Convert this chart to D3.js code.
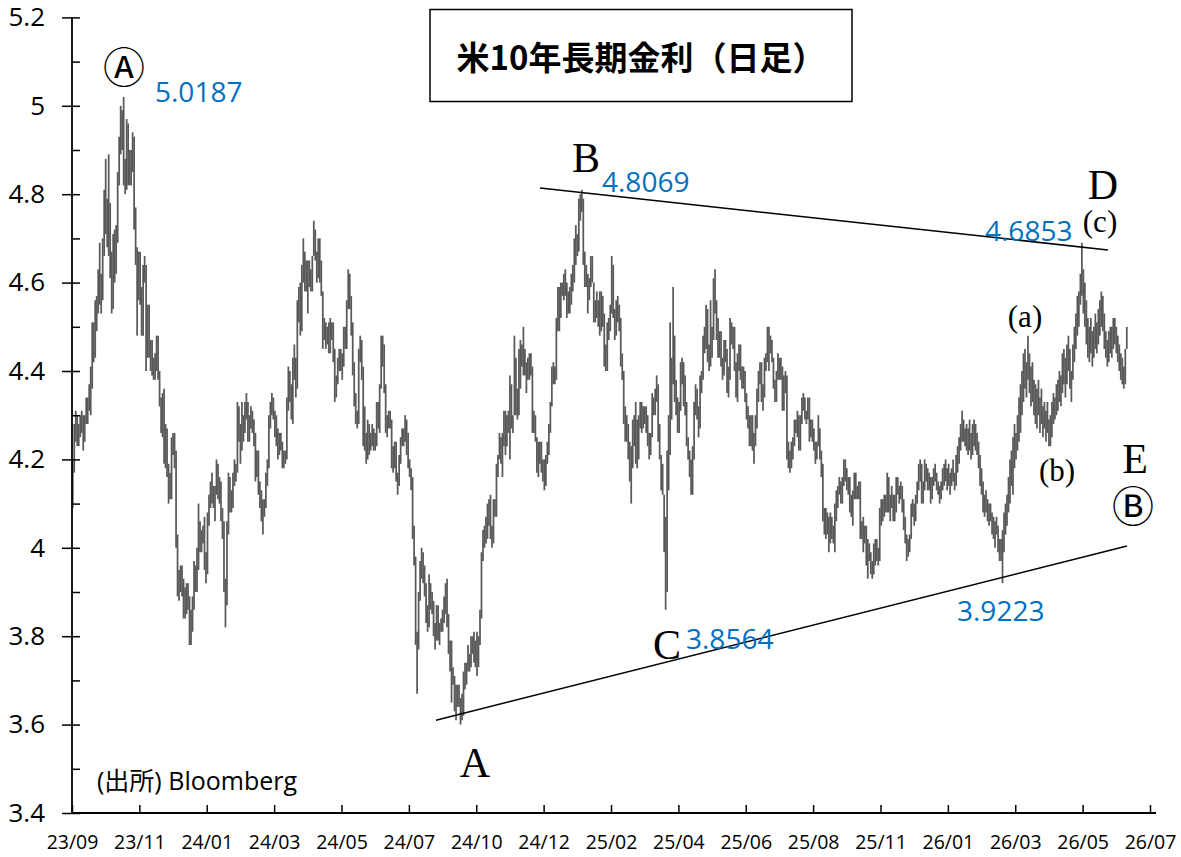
<!DOCTYPE html>
<html><head><meta charset="utf-8">
<script src="https://cdn.jsdelivr.net/npm/d3@7"></script>
<style>body{margin:0;background:#fff}svg{display:block}</style>
</head><body><svg id="c" width="1181" height="857"></svg>
<script>
// Daily [low, high] of the US 10Y yield (one pair per trading day)
const hl2023 = [
// Sep
[4.09,4.20],[4.17,4.28],[4.24,4.31],[4.23,4.30],[4.23,4.28],[4.25,4.30],[4.26,4.31],[4.22,4.30],[4.24,4.30],[4.28,4.34],[4.28,4.34],[4.31,4.37],[4.30,4.41],[4.36,4.51],[4.42,4.51],[4.43,4.56],[4.49,4.57],[4.53,4.63],[4.55,4.69],[4.53,4.62],
// Oct
[4.56,4.70],[4.66,4.81],[4.71,4.88],[4.68,4.79],[4.66,4.89],[4.61,4.78],[4.53,4.67],[4.54,4.71],[4.60,4.72],[4.62,4.73],[4.69,4.85],[4.82,4.93],[4.89,5.00],[4.90,4.99],[4.82,5.02],[4.80,4.88],[4.81,4.97],[4.82,4.96],[4.82,4.90],[4.82,4.90],[4.85,4.94],
// Nov
[4.72,4.93],[4.64,4.77],[4.48,4.68],[4.56,4.67],[4.55,4.67],[4.48,4.59],[4.48,4.64],[4.60,4.66],[4.40,4.64],[4.43,4.55],[4.43,4.55],[4.40,4.47],[4.39,4.47],[4.38,4.43],[4.38,4.44],[4.40,4.48],[4.38,4.48],[4.32,4.40],[4.26,4.34],[4.25,4.35],
// Dec
[4.19,4.36],[4.18,4.28],[4.16,4.27],[4.10,4.19],[4.11,4.17],[4.11,4.25],[4.21,4.26],[4.18,4.26],[4.00,4.22],[3.89,4.03],[3.88,3.95],[3.90,3.96],[3.89,3.96],[3.84,3.93],[3.84,3.91],[3.85,3.92],[3.86,3.92],[3.78,3.89],[3.78,3.86],[3.81,3.89]
];
const hl2024 = [
// Jan
[3.86,3.97],[3.90,3.96],[3.90,4.00],[3.95,4.10],[3.99,4.06],[3.99,4.04],[4.01,4.05],[3.95,4.07],[3.92,3.99],[3.94,4.08],[4.05,4.12],[4.09,4.15],[4.10,4.17],[4.09,4.14],[4.06,4.14],[4.12,4.20],[4.11,4.19],[4.10,4.16],[4.06,4.15],[4.02,4.09],[3.90,4.06],
// Feb
[3.82,3.93],[3.87,4.06],[4.03,4.17],[4.08,4.16],[4.08,4.13],[4.09,4.17],[4.14,4.20],[4.15,4.19],[4.17,4.33],[4.24,4.32],[4.19,4.28],[4.22,4.33],[4.24,4.30],[4.26,4.33],[4.29,4.35],[4.24,4.33],[4.24,4.30],[4.27,4.32],[4.26,4.31],[4.23,4.29],
// Mar
[4.15,4.26],[4.16,4.22],[4.12,4.22],[4.09,4.15],[4.06,4.13],[4.03,4.11],[4.07,4.11],[4.09,4.17],[4.14,4.20],[4.18,4.30],[4.27,4.33],[4.30,4.35],[4.29,4.34],[4.25,4.31],[4.23,4.30],[4.20,4.27],[4.21,4.26],[4.22,4.26],[4.18,4.24],[4.18,4.22],[4.19,4.22],
// Apr
[4.20,4.34],[4.31,4.41],[4.33,4.40],[4.29,4.37],[4.28,4.43],[4.38,4.46],[4.34,4.43],[4.36,4.56],[4.51,4.59],[4.48,4.60],[4.49,4.64],[4.60,4.70],[4.58,4.67],[4.58,4.65],[4.53,4.65],[4.59,4.65],[4.58,4.63],[4.58,4.66],[4.66,4.74],[4.65,4.72],[4.60,4.67],[4.61,4.70],
// May
[4.60,4.70],[4.57,4.65],[4.45,4.58],[4.47,4.52],[4.45,4.51],[4.46,4.50],[4.44,4.51],[4.44,4.52],[4.47,4.51],[4.42,4.51],[4.33,4.45],[4.34,4.39],[4.37,4.43],[4.40,4.45],[4.40,4.45],[4.38,4.44],[4.41,4.50],[4.45,4.50],[4.45,4.56],[4.54,4.63],[4.54,4.62],[4.48,4.57],
// Jun
[4.39,4.51],[4.32,4.42],[4.28,4.35],[4.27,4.31],[4.28,4.45],[4.42,4.48],[4.38,4.47],[4.23,4.41],[4.22,4.32],[4.19,4.26],[4.20,4.29],[4.21,4.28],[4.22,4.26],[4.23,4.28],[4.22,4.27],[4.22,4.26],[4.23,4.33],[4.27,4.33],[4.26,4.37],
// Jul
[4.36,4.48],[4.41,4.48],[4.35,4.46],[4.26,4.37],[4.25,4.30],[4.27,4.31],[4.27,4.31],[4.18,4.29],[4.17,4.23],[4.18,4.24],[4.15,4.24],[4.12,4.17],[4.14,4.21],[4.19,4.25],[4.23,4.27],[4.23,4.27],[4.24,4.30],[4.21,4.29],[4.18,4.26],[4.16,4.20],[4.13,4.18],[4.02,4.16],
// Aug
[3.96,4.05],[3.78,3.98],[3.67,3.81],[3.77,3.90],[3.88,3.97],[3.93,4.00],[3.92,3.99],[3.89,3.96],[3.83,3.92],[3.81,3.87],[3.82,3.94],[3.86,3.92],[3.85,3.90],[3.80,3.88],[3.77,3.83],[3.79,3.87],[3.79,3.87],[3.78,3.83],[3.81,3.84],[3.81,3.86],[3.83,3.89],[3.85,3.92],
// Sep
[3.82,3.93],[3.76,3.85],[3.72,3.79],[3.65,3.79],[3.69,3.73],[3.63,3.71],[3.61,3.69],[3.64,3.69],[3.64,3.69],[3.60,3.66],[3.61,3.67],[3.62,3.72],[3.68,3.74],[3.69,3.74],[3.72,3.78],[3.72,3.76],[3.73,3.80],[3.76,3.80],[3.74,3.81],[3.73,3.79],
// Oct
[3.71,3.81],[3.73,3.80],[3.78,3.86],[3.84,3.99],[3.97,4.04],[4.00,4.05],[4.01,4.07],[4.02,4.10],[4.05,4.11],[4.02,4.12],[4.00,4.05],[4.01,4.11],[4.07,4.11],[4.07,4.19],[4.16,4.21],[4.20,4.26],[4.19,4.25],[4.16,4.26],[4.23,4.31],[4.21,4.31],[4.23,4.30],[4.26,4.31],
// Nov
[4.20,4.39],[4.27,4.37],[4.26,4.30],[4.30,4.48],[4.30,4.43],[4.29,4.36],[4.30,4.45],[4.36,4.47],[4.41,4.46],[4.39,4.50],[4.39,4.45],[4.35,4.42],[4.38,4.43],[4.38,4.44],[4.39,4.44],[4.26,4.41],[4.26,4.31],[4.24,4.30],[4.17,4.25],
// Dec
[4.16,4.24],[4.19,4.24],[4.17,4.24],[4.15,4.20],[4.13,4.20],[4.14,4.21],[4.19,4.24],[4.21,4.28],[4.26,4.33],[4.32,4.41],[4.37,4.42],[4.37,4.41],[4.38,4.52],[4.49,4.59],[4.49,4.59],[4.52,4.60],[4.57,4.60],[4.56,4.62],[4.57,4.63],[4.52,4.60],[4.53,4.58]
];
const hl2025 = [
// Jan
[4.53,4.59],[4.55,4.62],[4.58,4.64],[4.60,4.70],[4.64,4.73],[4.66,4.71],[4.67,4.79],[4.74,4.80],[4.76,4.81],[4.64,4.79],[4.59,4.67],[4.59,4.64],[4.53,4.62],[4.56,4.61],[4.59,4.66],[4.60,4.66],[4.51,4.60],[4.51,4.56],[4.52,4.58],[4.50,4.56],[4.48,4.58],
// Feb
[4.49,4.58],[4.50,4.57],[4.41,4.53],[4.40,4.46],[4.40,4.51],[4.47,4.52],[4.49,4.55],[4.53,4.66],[4.52,4.64],[4.47,4.54],[4.48,4.56],[4.51,4.57],[4.49,4.55],[4.41,4.52],[4.38,4.44],[4.28,4.40],[4.24,4.32],[4.24,4.30],[4.20,4.28],
// Mar
[4.15,4.24],[4.10,4.23],[4.18,4.29],[4.23,4.30],[4.19,4.33],[4.18,4.29],[4.20,4.30],[4.27,4.33],[4.26,4.33],[4.27,4.32],[4.28,4.32],[4.26,4.32],[4.23,4.30],[4.20,4.26],[4.21,4.26],[4.25,4.35],[4.30,4.34],[4.30,4.36],[4.33,4.39],[4.24,4.37],[4.20,4.28],
// Apr
[4.13,4.21],[4.12,4.19],[3.99,4.12],[3.86,4.07],[3.90,4.22],[4.13,4.30],[4.21,4.51],[4.29,4.43],[4.37,4.59],[4.33,4.48],[4.30,4.38],[4.26,4.34],[4.26,4.33],[4.31,4.42],[4.37,4.43],[4.32,4.42],[4.30,4.39],[4.23,4.33],[4.20,4.25],[4.16,4.22],[4.12,4.20],
// May
[4.12,4.23],[4.20,4.33],[4.30,4.37],[4.29,4.36],[4.25,4.32],[4.27,4.39],[4.35,4.40],[4.38,4.48],[4.44,4.50],[4.45,4.55],[4.42,4.54],[4.40,4.46],[4.41,4.56],[4.43,4.50],[4.47,4.61],[4.53,4.63],[4.47,4.56],[4.43,4.52],[4.43,4.49],[4.41,4.49],[4.38,4.43],
// Jun
[4.39,4.47],[4.42,4.47],[4.35,4.45],[4.34,4.41],[4.38,4.52],[4.46,4.51],[4.45,4.50],[4.40,4.50],[4.34,4.42],[4.33,4.44],[4.40,4.46],[4.38,4.46],[4.36,4.41],[4.36,4.41],[4.33,4.40],[4.29,4.35],[4.27,4.32],[4.23,4.30],[4.23,4.30],[4.22,4.30],
// Jul
[4.19,4.26],[4.23,4.30],[4.27,4.36],[4.33,4.40],[4.37,4.42],[4.33,4.42],[4.31,4.37],[4.34,4.43],[4.40,4.44],[4.42,4.50],[4.40,4.50],[4.44,4.48],[4.42,4.47],[4.36,4.43],[4.33,4.38],[4.33,4.40],[4.38,4.44],[4.38,4.43],[4.38,4.43],[4.31,4.41],[4.31,4.39],[4.35,4.40],
// Aug
[4.20,4.39],[4.18,4.24],[4.17,4.22],[4.18,4.24],[4.20,4.25],[4.23,4.29],[4.26,4.29],[4.25,4.31],[4.22,4.30],[4.22,4.30],[4.28,4.34],[4.31,4.35],[4.29,4.34],[4.28,4.31],[4.29,4.34],[4.24,4.34],[4.25,4.29],[4.24,4.29],[4.22,4.27],[4.19,4.24],[4.20,4.24],
// Sep
[4.23,4.30],[4.20,4.27],[4.16,4.22],[4.06,4.19],[4.03,4.09],[4.02,4.09],[4.03,4.08],[3.99,4.07],[4.01,4.08],[4.02,4.07],[4.01,4.05],[3.99,4.10],[4.06,4.13],[4.09,4.14],[4.12,4.16],[4.10,4.15],[4.10,4.16],[4.14,4.20],[4.15,4.20],[4.13,4.18],[4.12,4.16],
// Oct
[4.08,4.16],[4.07,4.12],[4.05,4.13],[4.11,4.17],[4.11,4.17],[4.11,4.14],[4.11,4.15],[4.02,4.15],[4.02,4.06],[3.99,4.07],[4.01,4.05],[3.96,4.05],[3.93,4.02],[3.97,4.01],[3.94,3.99],[3.93,3.97],[3.94,4.01],[3.96,4.02],[3.97,4.02],[3.96,4.00],[3.97,4.09],[4.05,4.11],[4.06,4.11],
// Nov
[4.07,4.12],[4.08,4.12],[4.08,4.17],[4.08,4.16],[4.06,4.12],[4.09,4.14],[4.06,4.12],[4.06,4.12],[4.08,4.16],[4.12,4.16],[4.10,4.14],[4.11,4.15],[4.08,4.14],[4.04,4.11],[4.01,4.07],[3.97,4.03],[3.98,4.02],[3.99,4.03],
// Dec
[4.02,4.10],[4.07,4.11],[4.05,4.10],[4.06,4.12],[4.10,4.15],[4.13,4.19],[4.15,4.20],[4.10,4.19],[4.10,4.15],[4.13,4.20],[4.15,4.19],[4.13,4.18],[4.13,4.17],[4.10,4.16],[4.11,4.16],[4.14,4.18],[4.15,4.19],[4.13,4.17],[4.12,4.15],[4.10,4.14],[4.11,4.15],[4.13,4.18]
];
const hl2026 = [
// Jan
[4.14,4.19],[4.15,4.20],[4.13,4.18],[4.14,4.19],[4.12,4.17],[4.14,4.18],[4.15,4.20],[4.13,4.17],[4.14,4.21],[4.17,4.23],[4.19,4.25],[4.22,4.28],[4.24,4.31],[4.24,4.29],[4.23,4.27],[4.22,4.28],[4.21,4.27],[4.22,4.29],[4.20,4.26],[4.21,4.28],
// Feb
[4.23,4.29],[4.22,4.28],[4.21,4.26],[4.18,4.24],[4.14,4.21],[4.12,4.18],[4.08,4.15],[4.07,4.12],[4.08,4.13],[4.06,4.11],[4.05,4.10],[4.06,4.10],[4.03,4.08],[4.02,4.07],[4.00,4.06],[4.03,4.07],[3.99,4.05],[3.97,4.02],[3.97,4.02],
// Mar
[3.92,4.04],[3.99,4.08],[4.03,4.10],[4.05,4.12],[4.08,4.16],[4.10,4.20],[4.14,4.22],[4.12,4.25],[4.18,4.28],[4.20,4.26],[4.22,4.30],[4.24,4.34],[4.26,4.37],[4.30,4.40],[4.33,4.44],[4.36,4.45],[4.34,4.42],[4.38,4.48],[4.35,4.44],[4.32,4.41],[4.33,4.42],[4.30,4.38],
// Apr
[4.28,4.37],[4.27,4.36],[4.30,4.38],[4.26,4.34],[4.28,4.36],[4.25,4.32],[4.27,4.33],[4.24,4.31],[4.26,4.33],[4.23,4.29],[4.23,4.30],[4.25,4.33],[4.28,4.35],[4.29,4.34],[4.30,4.37],[4.31,4.38],[4.33,4.40],[4.32,4.39],[4.35,4.44],[4.37,4.45],[4.34,4.43],
// May
[4.37,4.46],[4.40,4.48],[4.36,4.45],[4.33,4.40],[4.38,4.46],[4.42,4.50],[4.45,4.53],[4.48,4.57],[4.50,4.58],[4.55,4.62],[4.57,4.69],[4.53,4.63],[4.50,4.60],[4.46,4.56],[4.43,4.52],[4.42,4.50],[4.44,4.52],[4.41,4.49],[4.43,4.50],[4.45,4.53],
// Jun
[4.44,4.51],[4.46,4.54],[4.48,4.56],[4.50,4.58],[4.49,4.57],[4.45,4.53],[4.43,4.49],[4.41,4.47],[4.42,4.49],[4.44,4.50],[4.43,4.50],[4.45,4.52],[4.46,4.52],[4.44,4.50],[4.42,4.48],[4.40,4.46],[4.38,4.44],[4.37,4.43],[4.36,4.41],[4.37,4.45],[4.45,4.50]
];
const xTickLabels = ["23/09","23/11","24/01","24/03","24/05","24/07","24/10","24/12","25/02","25/04","25/06","25/08","25/11","26/01","26/03","26/05","26/07"];
const daysPerTick = 45;
const yMajor = [3.4,3.6,3.8,4.0,4.2,4.4,4.6,4.8,5.0,5.2];
const yTickLabels = ["3.4","3.6","3.8","4","4.2","4.4","4.6","4.8","5","5.2"];
const yMinor = [3.5,3.7,3.9,4.1,4.3,4.5,4.7,4.9,5.1];
// trend lines: [day index, yield]
const upperLine = [[312.6,4.814],[691.9,4.674]];
const lowerLine = [[243.1,3.610],[704.6,4.004]];
// annotations
const waveLabels = [
  {t:"B",x:586,y:172},{t:"C",x:667,y:659},{t:"D",x:1103,y:199},{t:"E",x:1135,y:473},{t:"A",x:475,y:777}
];
const subLabels = [{t:"(a)",x:1025,y:327},{t:"(b)",x:1057,y:481},{t:"(c)",x:1100,y:232}];
const valueLabels = [
  {t:"5.0187",x:155,y:102},{t:"4.8069",x:602,y:192},{t:"4.6853",x:985,y:241},{t:"3.9223",x:957,y:621},{t:"3.8564",x:686,y:649}
];
const circleLabels = [{t:"Ⓐ",x:124,y:83},{t:"Ⓑ",x:1133,y:522}];

const bars = [].concat(hl2023, hl2024, hl2025, hl2026);
const nTicks = xTickLabels.length - 1;
const svg = d3.select("#c");
const x = d3.scaleLinear().domain([0, nTicks*daysPerTick]).range([72,1150]);
const y = d3.scaleLinear().domain([3.4,5.2]).range([813,17.4]);

// bars
svg.append("g").selectAll("line").data(bars).join("line")
  .attr("x1",(d,i)=>x(i+0.5)).attr("x2",(d,i)=>x(i+0.5))
  .attr("y1",d=>y(d[0])).attr("y2",d=>y(d[1]))
  .attr("stroke","#595959").attr("stroke-width",1.75);

// trend lines
const ln = d3.line().x(d=>x(d[0])).y(d=>y(d[1]));
[upperLine, lowerLine].forEach(L=>svg.append("path").attr("d",ln(L)).attr("fill","none").attr("stroke","#000").attr("stroke-width",1.5));

// y axis
const gy = svg.append("g").attr("transform","translate(72,0)")
  .call(d3.axisLeft(y).tickValues(yMajor).tickSize(10).tickSizeOuter(0).tickPadding(17).tickFormat((d,i)=>yTickLabels[i]));
gy.select(".domain").remove();
gy.selectAll("line").attr("stroke","#000").attr("stroke-width",1.5);
gy.selectAll("text").attr("font-family","'Open Sans', sans-serif").attr("font-size",26).attr("fill","#000");
const gy2 = svg.append("g").attr("transform","translate(72,0)")
  .call(d3.axisRight(y).tickValues(yMajor.concat(yMinor)).tickSize(8).tickSizeOuter(0).tickFormat(""));
gy2.select(".domain").remove();
gy2.selectAll("line").attr("stroke","#000").attr("stroke-width",1.5);
svg.append("line").attr("x1",72).attr("x2",72).attr("y1",y(5.2)).attr("y2",y(3.4)).attr("stroke","#000").attr("stroke-width",1.8);

// x axis
const gx = svg.append("g").attr("transform",`translate(0,${y(3.4)})`)
  .call(d3.axisBottom(x).tickValues(d3.range(0, nTicks*daysPerTick+1, daysPerTick)).tickSize(-8).tickSizeOuter(0).tickPadding(22).tickFormat((d,i)=>xTickLabels[i]));
gx.select(".domain").remove();
gx.selectAll("line").attr("stroke","#000").attr("stroke-width",1.5);
gx.selectAll("text").attr("font-family","'Open Sans', sans-serif").attr("font-size",19.5).attr("fill","#000");
svg.append("line").attr("x1",72).attr("x2",1156).attr("y1",y(3.4)).attr("y2",y(3.4)).attr("stroke","#000").attr("stroke-width",1.8);

// title box
svg.append("rect").attr("x",430).attr("y",9.5).attr("width",422).attr("height",92).attr("fill","#fff").attr("stroke","#000").attr("stroke-width",1.5);
svg.append("text").attr("x",641).attr("y",70).attr("text-anchor","middle")
  .attr("font-family","'Noto Sans CJK JP', sans-serif").attr("font-weight",700).attr("font-size",33).text("米10年長期金利（日足）");

// annotations
svg.append("g").selectAll("text").data(waveLabels).join("text")
  .attr("x",d=>d.x).attr("y",d=>d.y).attr("text-anchor","middle")
  .attr("font-family","'Liberation Serif', serif").attr("font-size",42).text(d=>d.t);
svg.append("g").selectAll("text").data(subLabels).join("text")
  .attr("x",d=>d.x).attr("y",d=>d.y).attr("text-anchor","middle")
  .attr("font-family","'Liberation Serif', serif").attr("font-size",31).text(d=>d.t);
svg.append("g").selectAll("text").data(valueLabels).join("text")
  .attr("x",d=>d.x).attr("y",d=>d.y)
  .attr("font-family","'Open Sans', sans-serif").attr("font-size",28).attr("fill","#0070C0").text(d=>d.t);
svg.append("g").selectAll("text").data(circleLabels).join("text")
  .attr("x",d=>d.x).attr("y",d=>d.y).attr("text-anchor","middle")
  .attr("font-family","'Noto Sans CJK JP', sans-serif").attr("font-size",42).text(d=>d.t);
svg.append("text").attr("x",97).attr("y",790)
  .attr("font-family","'Open Sans','Noto Sans CJK JP', sans-serif").attr("font-size",25).text("(出所) Bloomberg");
</script>
</body></html>
